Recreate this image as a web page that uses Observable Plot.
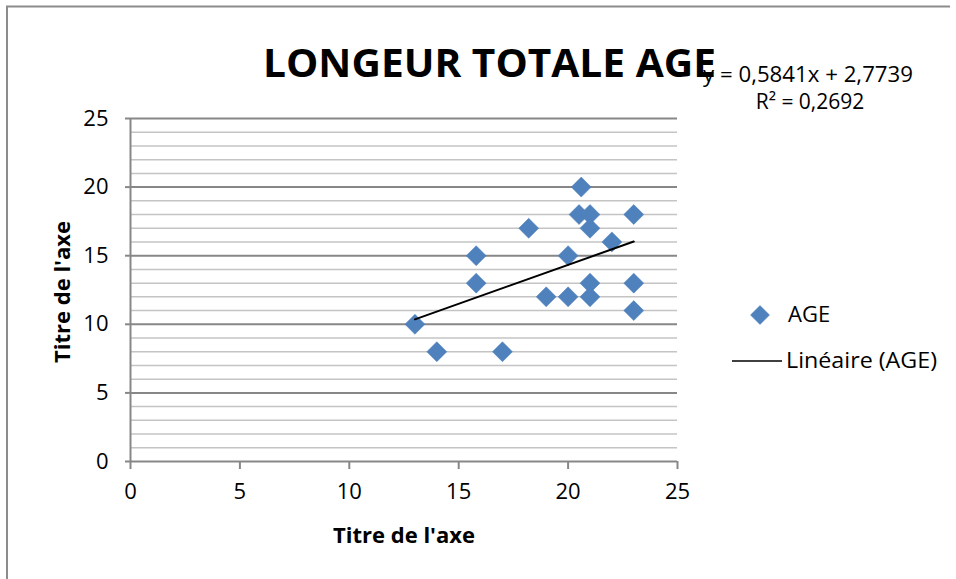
<!DOCTYPE html>
<html>
<head>
<meta charset="utf-8">
<script src="https://cdn.jsdelivr.net/npm/d3@7"></script>
<script src="https://cdn.jsdelivr.net/npm/@observablehq/plot@0.6"></script>
<style>
  html, body { margin: 0; padding: 0; background: #fff; }
  #wrap { position: relative; width: 956px; height: 579px; overflow: hidden; background: #fff; }
  #wrap > svg { position: absolute; left: 0; top: 0; }
</style>
</head>
<body>
<div id="wrap"></div>
<script>
// ---- data ----
const longueur = [20.6, 20.5, 21, 23, 18.2, 21, 22, 15.8, 20, 15.8, 21, 23, 19, 20, 21, 23, 13, 14, 17];
const age      = [20, 18, 18, 18, 17, 17, 16, 15, 15, 13, 13, 13, 12, 12, 12, 11, 10, 8, 8];
const xTicks = [0, 5, 10, 15, 20, 25];
const yTicks = [0, 5, 10, 15, 20, 25];
const yMinor = [1, 2, 3, 4, 6, 7, 8, 9, 11, 12, 13, 14, 16, 17, 18, 19, 21, 22, 23, 24];
const titleText = "LONGEUR TOTALE AGE";
const axisTitle = "Titre de l'axe";
const equation = "y = 0,5841x + 2,7739";
const rSquared = "R² = 0,2692";
const seriesName = "AGE";
const trendName = "Linéaire (AGE)";

const data = longueur.map((x, i) => ({x, y: age[i]}));

const FONT = "'Open Sans', 'Noto Sans', sans-serif";
const BLUE = "#4f81bd";
const GRID_MAJOR = "#878787";
const GRID_MINOR = "#c4c4c4";

const chart = Plot.plot({
  width: 956,
  height: 579,
  marginLeft: 130,
  marginRight: 279,
  marginTop: 118,
  marginBottom: 118,
  style: {fontFamily: FONT, fontSize: "22px", color: "black", background: "transparent", overflow: "visible"},
  x: {domain: [0, 25]},
  y: {domain: [0, 25]},
  marks: [
    Plot.ruleY(yMinor, {stroke: GRID_MINOR, strokeWidth: 1.5}),
    Plot.ruleY(yTicks.filter(d => d > 0), {stroke: GRID_MAJOR, strokeWidth: 2}),
    Plot.axisY({ticks: yTicks, tickSize: 5, tickPadding: 17, stroke: GRID_MAJOR, strokeWidth: 2, label: null, fill: "black", fontSize: 22}),
    Plot.axisX({ticks: xTicks, tickSize: 8, tickPadding: 14, stroke: GRID_MAJOR, strokeWidth: 2, label: null, fill: "black", fontSize: 22}),
    Plot.ruleX([0], {stroke: GRID_MAJOR, strokeWidth: 2}),
    Plot.ruleY([0], {stroke: GRID_MAJOR, strokeWidth: 2}),
    Plot.dot(data, {x: "x", y: "y", symbol: "diamond2", r: 9, fill: BLUE, stroke: "#4a7ebb", strokeWidth: 0.5}),
    Plot.linearRegressionY(data, {x: "x", y: "y", stroke: "black", strokeWidth: 2, ci: 0})
  ]
});

const wrap = document.getElementById("wrap");
wrap.appendChild(chart);

// ---- overlay: frame, title, equation, legend, axis titles ----
const ns = "http://www.w3.org/2000/svg";
const ov = document.createElementNS(ns, "svg");
ov.setAttribute("width", 956);
ov.setAttribute("height", 579);
ov.style.fontFamily = FONT;
wrap.appendChild(ov);

function el(tag, attrs, text) {
  const e = document.createElementNS(ns, tag);
  for (const k in attrs) e.setAttribute(k, attrs[k]);
  if (text != null) e.textContent = text;
  ov.appendChild(e);
  return e;
}

// chart frame (top and left visible)
el("path", {d: "M7,579 V6.5 H950", fill: "none", stroke: "#8c8c8c", "stroke-width": 2});

// title
el("text", {x: 263, y: 77, "font-size": 40, "font-weight": 700, fill: "black",
  textLength: 453, lengthAdjust: "spacingAndGlyphs"}, titleText);

// equation
el("text", {x: 808, y: 82, "font-size": 21, "text-anchor": "middle", fill: "black",
  textLength: 210, lengthAdjust: "spacingAndGlyphs"}, equation);
el("text", {x: 810, y: 109, "font-size": 21, "text-anchor": "middle", fill: "black"}, rSquared);

// axis titles
el("text", {x: 404, y: 543, "font-size": 22, "font-weight": 700, "text-anchor": "middle", fill: "black",
  textLength: 142, lengthAdjust: "spacingAndGlyphs"}, axisTitle);
el("text", {x: 0, y: 0, "font-size": 22, "font-weight": 700, "text-anchor": "middle", fill: "black",
  textLength: 142, lengthAdjust: "spacingAndGlyphs",
  transform: "translate(70,292) rotate(-90)"}, axisTitle);

// legend
el("path", {d: "M760,305.5 L769.5,315 L760,324.5 L750.5,315 Z", fill: BLUE, stroke: "#4a7ebb", "stroke-width": 0.5});
el("text", {x: 788, y: 322, "font-size": 22, fill: "black"}, seriesName);
el("line", {x1: 732, x2: 782, y1: 361, y2: 361, stroke: "black", "stroke-width": 1.5});
el("text", {x: 786, y: 368, "font-size": 22, fill: "black", textLength: 151, lengthAdjust: "spacingAndGlyphs"}, trendName);
</script>
</body>
</html>
